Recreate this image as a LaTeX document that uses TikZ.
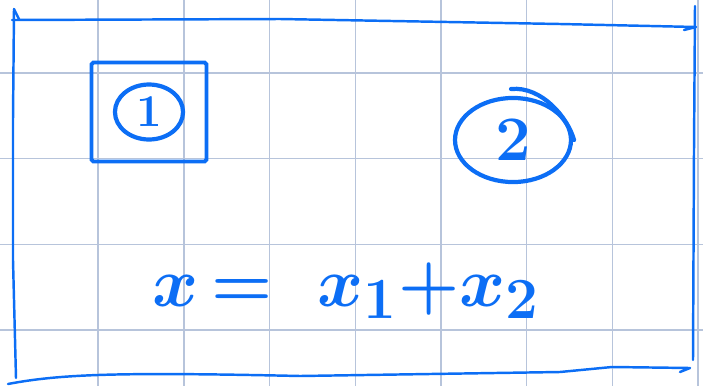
\documentclass[tikz,border=0pt]{standalone}
\usepackage{tikz}
\usetikzlibrary{shapes.geometric, positioning, calc}
\definecolor{penblue}{RGB}{12,110,245}
\definecolor{gridblue}{RGB}{183,196,219}
\tikzset{
  gridrule/.style={draw=gridblue, line width=0.8pt},
  penline/.style={draw=penblue, line width=1.4pt, line cap=round, line join=round},
  penbox/.style={
    draw=penblue, line width=2.2pt, rounded corners=1pt,
    minimum width=2.3cm, minimum height=1.98cm
  },
  penloop/.style={
    ellipse, draw=penblue, line width=2.4pt, text=penblue, inner sep=0pt
  },
  pentext/.style={text=penblue, font=\Huge\boldmath, scale=1.6},
}

\begin{document}
\begin{tikzpicture}[x=0.02cm, y=-0.02cm]
  \useasboundingbox (0,0) rectangle (707,386);

  % ── Squared paper ─────────────────────────────────────────────
  \foreach \i in {1,...,8}
    \draw[gridrule] (12.5+85.7*\i, 0) -- (12.5+85.7*\i, 386);
  \foreach \j in {1,...,4}
    \draw[gridrule] (0, -12.7+85.7*\j) -- (703, -12.7+85.7*\j);

  % ── Outer frame ───────────────────────────────────────────────
  \draw[penline] (14,9) -- (13,120) -- (13,260) -- (16,378);
  \draw[penline] (14,9) -- (19,19);
  \draw[penline] (12,20) -- (280,19) -- (560,24) -- (696,27) -- (684,30);
  \draw[penline] (695,6) -- (694,150) -- (693,360);
  \draw[penline] (8,384) .. controls (60,374) and (120,372) .. (300,376)
    -- (560,372) -- (612,367) -- (690,368) -- (680,372);

  % ── Region 1 ──────────────────────────────────────────────────
  \node[penbox] (box1) at (149,112) {};
  \node[penloop, minimum width=1.09cm, minimum height=0.88cm,
        font=\huge\bfseries, scale=1.25]
    (one) at (box1.center) {1};

  % ── Region 2 ──────────────────────────────────────────────────
  \node[penloop, minimum width=1.6cm, minimum height=1.16cm,
        font=\Huge\bfseries, scale=1.45]
    (two) at (513,140) {2};
  \draw[penline, line width=2.4pt]
    (511,89) .. controls (542,86) and (568,118) .. (two.east);

  % ── Sum ───────────────────────────────────────────────────────
  \node[pentext, anchor=base] (sum) at (346,306) {${x}\,{=}\;\;{x_1}{+}{x_2}$};
\end{tikzpicture}
\end{document}
